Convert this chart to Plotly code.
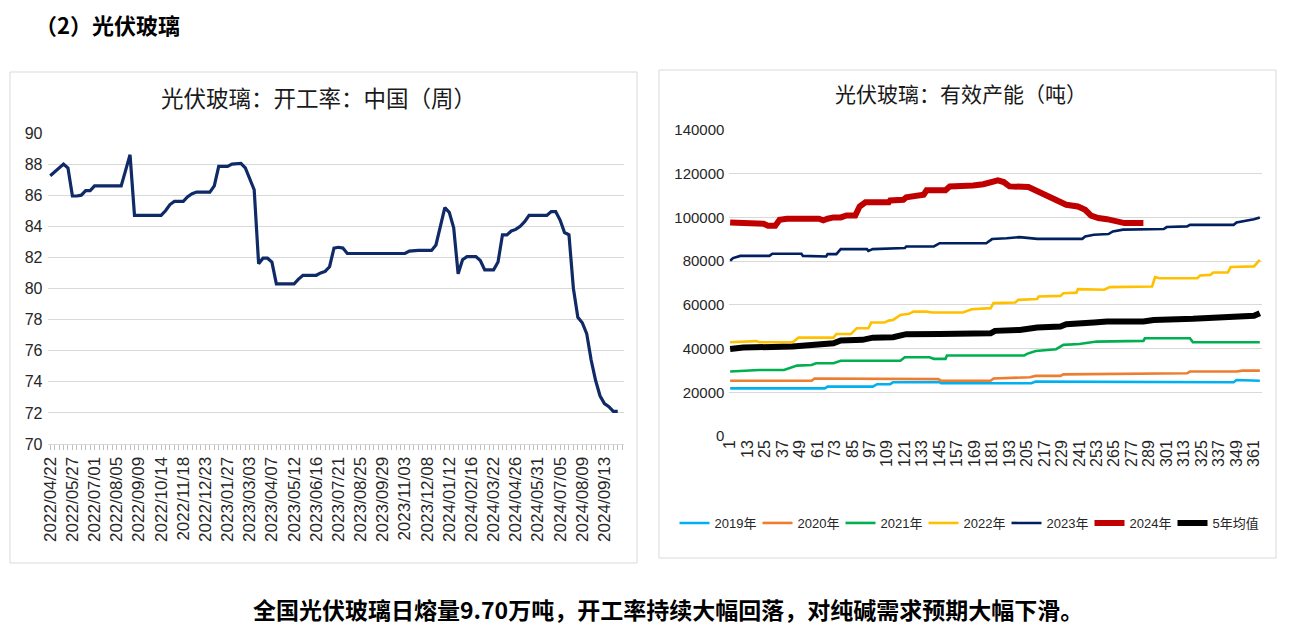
import plotly.graph_objects as go
import pandas as pd

# ---------------- data ----------------
# Left chart: weekly operating rate, starting 2022/04/22
start_date = "2022-04-22"
op_rate = [
    87.25, 87.5, 87.75, 88.0, 87.75, 85.95, 85.95, 86.0, 86.3, 86.3,
    86.6, 86.6, 86.6, 86.6, 86.6, 86.6, 86.6, 87.6, 88.6, 84.7,
    84.7, 84.7, 84.7, 84.7, 84.7, 84.7, 85.0, 85.4, 85.6, 85.6,
    85.6, 85.9, 86.1, 86.2, 86.2, 86.2, 86.2, 86.6, 87.85, 87.85,
    87.85, 88.0, 88.05, 88.05, 87.75, 87.1, 86.35, 81.6, 81.95, 81.95,
    81.7, 80.3, 80.3, 80.3, 80.3, 80.3, 80.6, 80.85, 80.85, 80.85,
    80.85, 81.0, 81.1, 81.4, 82.6, 82.65, 82.6, 82.25, 82.25, 82.25,
    82.25, 82.25, 82.25, 82.25, 82.25, 82.25, 82.25, 82.25, 82.25, 82.25,
    82.25, 82.4, 82.45, 82.45, 82.45, 82.45, 82.45, 82.8, 84.0, 85.2,
    84.9, 83.9, 80.95, 81.85, 82.05, 82.05, 82.05, 81.8, 81.2, 81.2,
    81.2, 81.7, 83.45, 83.45, 83.7, 83.8, 84.0, 84.3, 84.7, 84.7,
    84.7, 84.7, 84.7, 84.95, 84.95, 84.4, 83.6, 83.45, 80.0, 78.15,
    77.8, 77.1, 75.4, 74.1, 73.1, 72.6, 72.4, 72.1, 72.1,
]
op_dates = pd.date_range(start_date, periods=len(op_rate), freq="7D")

# Right chart: effective capacity (tonnes) by day-of-year, read at breakpoints
day_ticks = [1, 13, 25, 37, 49, 61, 73, 85, 97, 109, 121, 133, 145, 157, 169,
             181, 193, 205, 217, 229, 241, 253, 265, 277, 289, 301, 313, 325,
             337, 349, 361]

y2019_days = [1, 66, 68, 99, 102, 111, 113, 145, 146, 208, 211, 249, 252, 347, 349, 365]
y2019_vals = [21800, 21800, 22600, 22600, 23700, 23700, 24600, 24600, 24100, 24100,
              24900, 24900, 24600, 24600, 25600, 25300]

y2020_days = [1, 57, 59, 113, 114, 144, 146, 180, 182, 207, 211, 228, 230, 315, 317, 349, 353, 365]
y2020_vals = [25300, 25300, 26300, 26300, 26000, 26000, 25300, 25300, 26300, 26900,
              27500, 27500, 28200, 28700, 29500, 29500, 29900, 29900]

y2021_days = [1, 12, 21, 38, 42, 47, 57, 60, 72, 77, 118, 121, 138, 141, 149, 150,
              203, 205, 211, 225, 230, 241, 253, 285, 286, 317, 319, 365]
y2021_vals = [29500, 29900, 30200, 30200, 31000, 32200, 32500, 33300, 33300, 34400,
              34400, 36000, 36000, 35300, 35300, 36800, 36800, 37600, 38900, 39700,
              41700, 42100, 43200, 43500, 44700, 44700, 42900, 42900]

y2022_days = [1, 19, 21, 44, 48, 72, 74, 84, 88, 96, 98, 107, 110, 113, 118, 124, 127,
              136, 140, 161, 167, 180, 182, 197, 199, 212, 213, 228, 230, 239, 240,
              258, 262, 291, 293, 296, 322, 324, 331, 333, 343, 345, 361, 365]
y2022_vals = [42900, 43400, 42900, 42900, 45000, 45000, 46700, 46700, 49300, 49300,
              51900, 51900, 52800, 53100, 55400, 55900, 56900, 56900, 56500, 56500,
              58000, 58500, 60800, 61100, 62300, 62700, 63800, 64100, 65300, 65600,
              67200, 66900, 68100, 68400, 72700, 72200, 72200, 73400, 73700, 74800,
              74800, 77300, 77600, 80600]

y2023_days = [1, 3, 8, 28, 30, 50, 51, 59, 67, 68, 74, 77, 95, 96, 99, 121, 122, 141,
              145, 177, 181, 191, 200, 212, 243, 245, 251, 261, 264, 271, 299, 301,
              315, 317, 347, 349, 357, 361, 365]
y2023_vals = [80200, 81400, 82400, 82400, 83400, 83400, 82400, 82100, 82100, 83200,
              83200, 85500, 85500, 84700, 85500, 86000, 86700, 86700, 88200, 88200,
              90100, 90500, 91000, 90200, 90200, 91300, 92100, 92400, 93600, 94400,
              94700, 95600, 95900, 96600, 96600, 97700, 98500, 99200, 100000]

y2024_days = [1, 19, 24, 27, 32, 35, 40, 62, 65, 68, 72, 77, 81, 87, 90, 94, 110, 111,
              120, 122, 130, 134, 136, 149, 152, 162, 168, 175, 182, 185, 189, 193,
              206, 211, 216, 224, 228, 232, 240, 245, 249, 254, 260, 267, 272, 285]
y2024_vals = [97700, 97400, 97100, 96200, 96200, 98900, 99400, 99400, 98700, 99400,
              100000, 100000, 100900, 100900, 105000, 106900, 106900, 107800, 108100, 109200,
              109600, 110400, 112400, 112400, 114200, 114200, 114600, 115200, 116200, 117000,
              116200, 114200, 113900, 112400, 110400, 108400, 106600, 105800, 105000, 103500,
              100800, 99700, 99200, 98200, 97400, 97400]

avg5_days = [1, 10, 44, 56, 72, 77, 92, 99, 113, 122, 136, 145, 180, 183, 200, 212,
             228, 232, 251, 260, 285, 292, 319, 342, 361, 365]
avg5_vals = [39800, 40500, 40900, 41700, 42400, 43700, 44000, 45000, 45200, 46600,
             46300, 46700, 47000, 48100, 48500, 49600, 50100, 51100, 51900, 52400,
             52400, 53100, 53600, 54200, 55000, 56200]

series_names = ["2019年", "2020年", "2021年", "2022年", "2023年", "2024年", "5年均值"]
series_days = [y2019_days, y2020_days, y2021_days, y2022_days, y2023_days, y2024_days, avg5_days]
series_vals = [y2019_vals, y2020_vals, y2021_vals, y2022_vals, y2023_vals, y2024_vals, avg5_vals]
series_colors = ["#00B0F0", "#ED7D31", "#00B050", "#FFC000", "#002060", "#C00000", "#000000"]
series_widths = [2.6, 2.6, 2.6, 2.6, 2.6, 6, 6]
legend_widths = [38, 38, 38, 38, 38, 38, 52]

# ---------------- layout helpers ----------------
W, H, OFF = 1275, 618, 8


def px(x):
    return (x - OFF) / W


def py(y):
    return 1 - (y - OFF) / H


NUM_FONT = "Liberation Sans, Arial, Noto Sans CJK SC, sans-serif"
CJK_FONT = "Noto Sans CJK SC, Microsoft YaHei, sans-serif"
TXT = "#262626"

fig = go.Figure()

fig.add_trace(go.Scatter(
    x=op_dates, y=op_rate, mode="lines",
    line=dict(color="#0F2A66", width=3.2),
    showlegend=False, xaxis="x", yaxis="y",
))

for name, d, v, c, w, lw in zip(series_names, series_days, series_vals,
                                series_colors, series_widths, legend_widths):
    fig.add_trace(go.Scatter(
        x=d, y=v, mode="lines", name=name,
        line=dict(color=c, width=w), legendwidth=lw,
        xaxis="x2", yaxis="y2",
    ))

week_ms = 7 * 86400000
t0 = pd.Timestamp(start_date)
xr0 = t0 + pd.Timedelta(days=7 * -0.62)
xr1 = t0 + pd.Timedelta(days=7 * 129.3)

fig.update_layout(
    width=W, height=H,
    margin=dict(l=0, r=0, t=0, b=0, autoexpand=False),
    paper_bgcolor="white", plot_bgcolor="white",
    font=dict(family=NUM_FONT, color=TXT),
    xaxis=dict(
        domain=[px(47.5), px(623.5)], anchor="y", automargin=False,
        type="date", range=[xr0, xr1],
        tick0=start_date, dtick=5 * week_ms, tickformat="%Y/%m/%d",
        tickangle=-90, tickfont=dict(size=17, color=TXT, family=NUM_FONT),
        ticks="outside", ticklen=5, tickcolor="#BFBFBF",
        minor=dict(dtick=week_ms, tick0=start_date, ticks="outside", ticklen=5,
                   tickcolor="#BFBFBF", showgrid=False),
        showline=True, linecolor="#D9D9D9", linewidth=1,
        showgrid=False, zeroline=False,
    ),
    yaxis=dict(
        domain=[py(444), py(133)], anchor="x", automargin=False,
        range=[70, 90], dtick=2, tick0=70,
        tickfont=dict(size=16, color=TXT, family=NUM_FONT),
        showgrid=True, gridcolor="#D9D9D9", gridwidth=1,
        zeroline=False, showline=False, ticks="", ticklabelstandoff=4,
    ),
    xaxis2=dict(
        domain=[px(729.4), px(1262)], anchor="y2", automargin=False,
        range=[0.5, 366.5], tickmode="array", tickvals=day_ticks,
        ticktext=[str(t) for t in day_ticks],
        tickangle=-90, tickfont=dict(size=16, color=TXT, family=NUM_FONT),
        showgrid=False, zeroline=False, showline=False, ticks="",
    ),
    yaxis2=dict(
        domain=[py(436), py(130)], anchor="x2", automargin=False,
        range=[0, 140000], dtick=20000, tick0=0, tickformat="d",
        tickfont=dict(size=15, color=TXT, family=NUM_FONT),
        showgrid=True, gridcolor="#D9D9D9", gridwidth=1,
        zeroline=False, showline=False, ticks="", ticklabelstandoff=4,
    ),
    legend=dict(
        orientation="h", x=px(972), xanchor="center", y=py(523), yanchor="middle",
        font=dict(size=13, color=TXT, family=NUM_FONT),
        itemwidth=30, tracegroupgap=0, bgcolor="rgba(0,0,0,0)",
    ),
)

# chart frames
for (x0, y0, x1, y1) in [(10, 72, 637, 563), (659, 70, 1276, 558)]:
    fig.add_shape(type="rect", xref="paper", yref="paper",
                  x0=px(x0), y0=py(y0), x1=px(x1), y1=py(y1),
                  line=dict(color="#D9D9D9", width=1), fillcolor="rgba(0,0,0,0)",
                  layer="below")

# texts
fig.add_annotation(text="光伏玻璃：开工率：中国（周）", x=px(318), y=py(97),
                   xanchor="center", yanchor="middle",
                   xref="paper", yref="paper", showarrow=False,
                   font=dict(size=22.5, color="#1a1a1a", family=CJK_FONT))
fig.add_annotation(text="光伏玻璃：有效产能（吨）", x=px(961), y=py(93),
                   xanchor="center", yanchor="middle",
                   xref="paper", yref="paper", showarrow=False,
                   font=dict(size=21, color="#1a1a1a", family=CJK_FONT))
fig.add_annotation(text="<b>（2）光伏玻璃</b>", x=px(34), y=py(24),
                   xanchor="left", yanchor="middle", borderpad=0,
                   xref="paper", yref="paper", showarrow=False,
                   font=dict(size=22, color="#000000", family=CJK_FONT))
fig.add_annotation(text="<b>全国光伏玻璃日熔量9.70万吨，开工率持续大幅回落，对纯碱需求预期大幅下滑。</b>",
                   x=px(668), y=py(609), xanchor="center", yanchor="middle", borderpad=0,
                   xref="paper", yref="paper", showarrow=False,
                   font=dict(size=23, color="#000000", family=CJK_FONT))

fig.write_html("out.html")
